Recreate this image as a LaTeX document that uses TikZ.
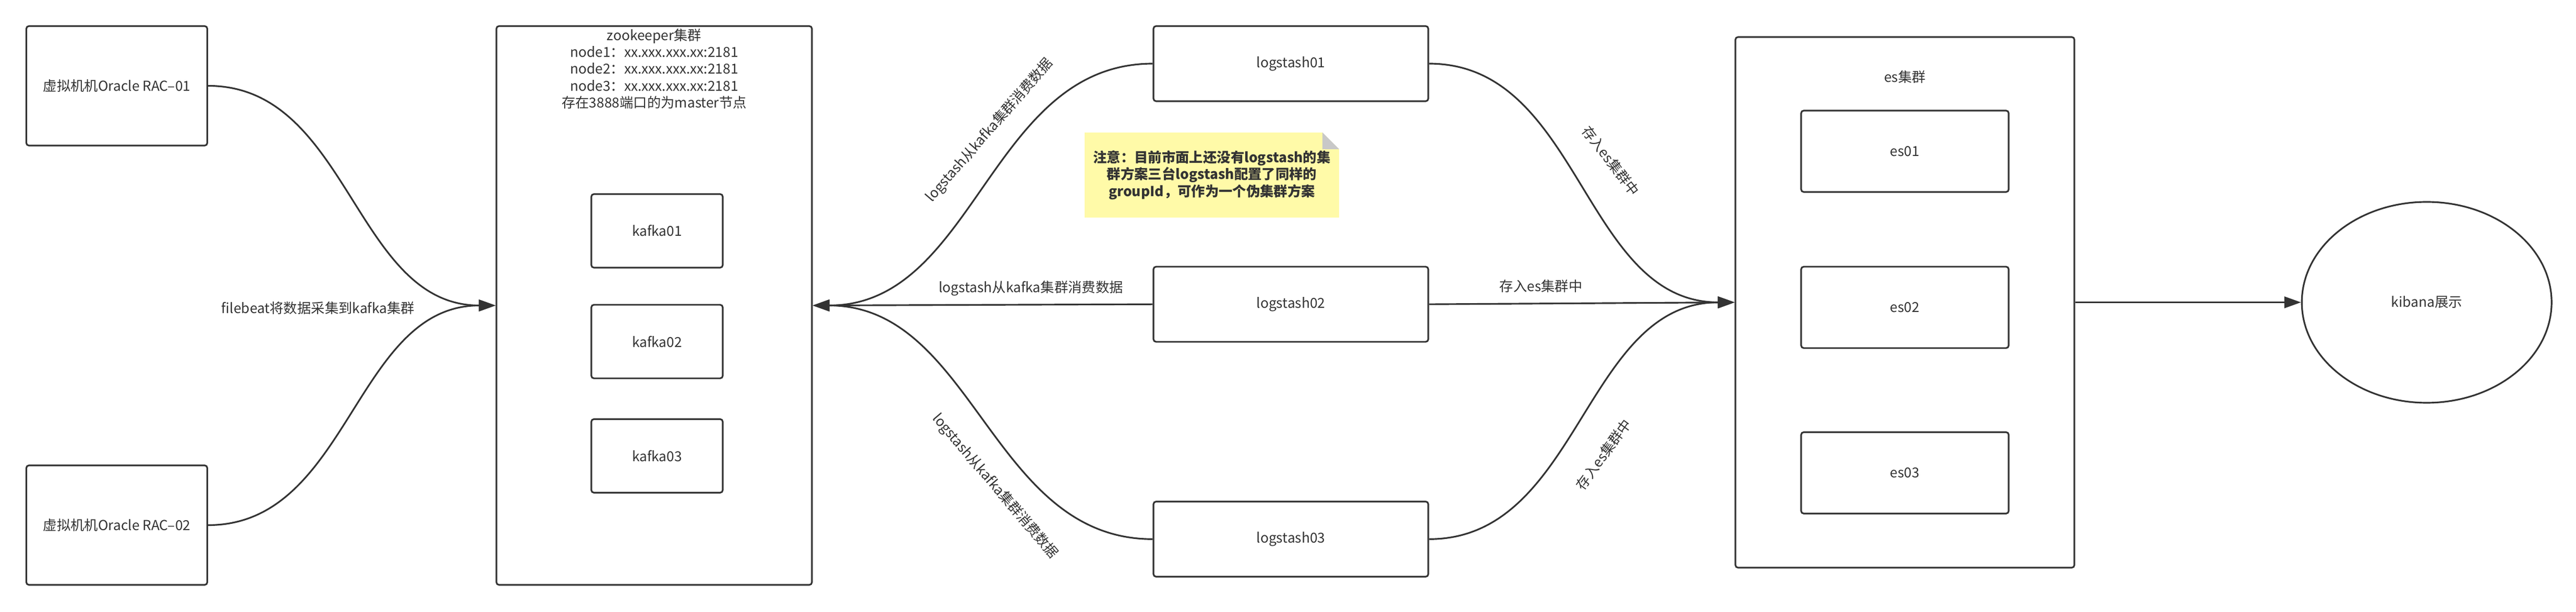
\documentclass[tikz,border=0pt]{standalone}
\usepackage{fontspec}
\setmainfont{Noto Sans CJK SC}
\usepackage{xcolor}
\usetikzlibrary {arrows.meta,
                 positioning,
                 shapes.geometric}
\definecolor{ink}{HTML}{333333}
\definecolor{notefill}{RGB}{255,250,168}
\definecolor{foldgray}{RGB}{200,200,200}
\tikzset{
        base/.style={draw=ink, line width=0.9pt, rounded corners=0.05cm,
                     align=center, text=ink,
                     font=\fontsize{7.5}{9.2}\selectfont},
        host/.style={base, rectangle, minimum width=3.47cm, minimum height=2.29cm},
        cluster/.style={base, rectangle, minimum width=6.05cm, minimum height=10.71cm},
        broker/.style={base, minimum width=2.52cm, minimum height=1.41cm},
        shipper/.style={base, minimum width=5.27cm, minimum height=1.44cm},
        esgroup/.style={base, minimum width=6.5cm, minimum height=10.17cm},
        esnode/.style={base, minimum width=3.98cm, minimum height=1.56cm},
        viewer/.style={base, ellipse, sharp corners, minimum width=4.79cm,
                       minimum height=3.85cm},
        lbl/.style={inner sep=0, text=ink, align=center,
                    font=\fontsize{7.5}{9.2}\selectfont},
        notebox/.style={fill=notefill, outer sep=0, inner sep=0, text=ink,
                        align=center, minimum width=4.88cm, minimum height=1.63cm,
                        font=\bfseries\fontsize{7.5}{9.3}\selectfont},
        myarrow/.style={-{Triangle[length=0.32cm, width=0.22cm]}, draw=ink,
                        line width=0.9pt},
 }
\begin{document}
\begin{tikzpicture}
    \useasboundingbox (0,0) rectangle (49.4,11.72);
    \node[host] (rac1) at (2.24,10.075) {虚拟机机Oracle RAC–01};
    \node[host] (rac2) at (2.24,1.655) {虚拟机机Oracle RAC–02};
    \node[cluster] (zk) at (12.545,5.865) {};
    \node[lbl, anchor=north] (zktxt) at ([yshift=-0.06cm]zk.north)
        {zookeeper集群\\node1：xx.xxx.xxx.xx:2181\\node2：xx.xxx.xxx.xx:2181\\node3：xx.xxx.xxx.xx:2181\\存在3888端口的为master节点};
    \node[broker] (k1) at (12.60,7.295) {kafka01};
    \node[broker, below=0.68cm of k1] (k2) {kafka02};
    \node[broker, below=0.75cm of k2] (k3) {kafka03};
    \node[shipper] (ls1) at (24.755,10.50) {logstash01};
    \node[shipper, below=3.14cm of ls1] (ls2) {logstash02};
    \node[shipper, below=3.03cm of ls2] (ls3) {logstash03};
    \node[esgroup] (es) at (36.53,5.925) {};
    \node[lbl] (estxt) at ([yshift=-0.78cm]es.north) {es集群};
    \node[esnode] (es1) at (36.53,8.82) {es01};
    \node[esnode, below=1.40cm of es1] (es2) {es02};
    \node[esnode, below=1.58cm of es2] (es3) {es03};
    \node[viewer, right=4.33cm of es] (kib) {kibana展示};
    \node[notebox] (note) at (23.24,8.365)
        {注意：目前市面上还没有logstash的集\\群方案三台logstash配置了同样的\\groupId，可作为一个伪集群方案};
    \fill[white] (note.north east) -- ++(-0.32,0) -- ++(0.32,-0.32) -- cycle;
    \fill[foldgray] ([xshift=-0.32cm]note.north east) -- ++(0,-0.32) -- ++(0.32,0) -- cycle;

    \draw[myarrow] (rac1.east) to[out=0, in=180] (zk.west);
    \draw[myarrow] (rac2.east) to[out=0, in=180] (zk.west);
    \draw[myarrow] (ls1.west) to[out=180, in=0] (zk.east);
    \draw[myarrow] (ls2.west) -- (zk.east);
    \draw[myarrow] (ls3.west) to[out=180, in=0] (zk.east);
    \draw[myarrow] (ls1.east) to[out=0, in=180] (es.west);
    \draw[myarrow] (ls2.east) -- (es.west);
    \draw[myarrow] (ls3.east) to[out=0, in=180] (es.west);
    \draw[myarrow] (es.east) -- (kib.west);

    \node[lbl] (fb) at (6.10,5.82) {filebeat将数据采集到kafka集群};
    \node[lbl, rotate=49] (c1) at (18.98,9.22) {logstash从kafka集群消费数据};
    \node[lbl] (c2) at (19.77,6.19) {logstash从kafka集群消费数据};
    \node[lbl, rotate=-49.5] (c3) at (19.08,2.40) {logstash从kafka集群消费数据};
    \node[lbl, rotate=-52.6] (s1) at (30.89,8.64) {存入es集群中};
    \node[lbl] (s2) at (29.55,6.24) {存入es集群中};
    \node[lbl, rotate=54] (s3) at (30.75,3.01) {存入es集群中};
\end{tikzpicture}
\end{document}
